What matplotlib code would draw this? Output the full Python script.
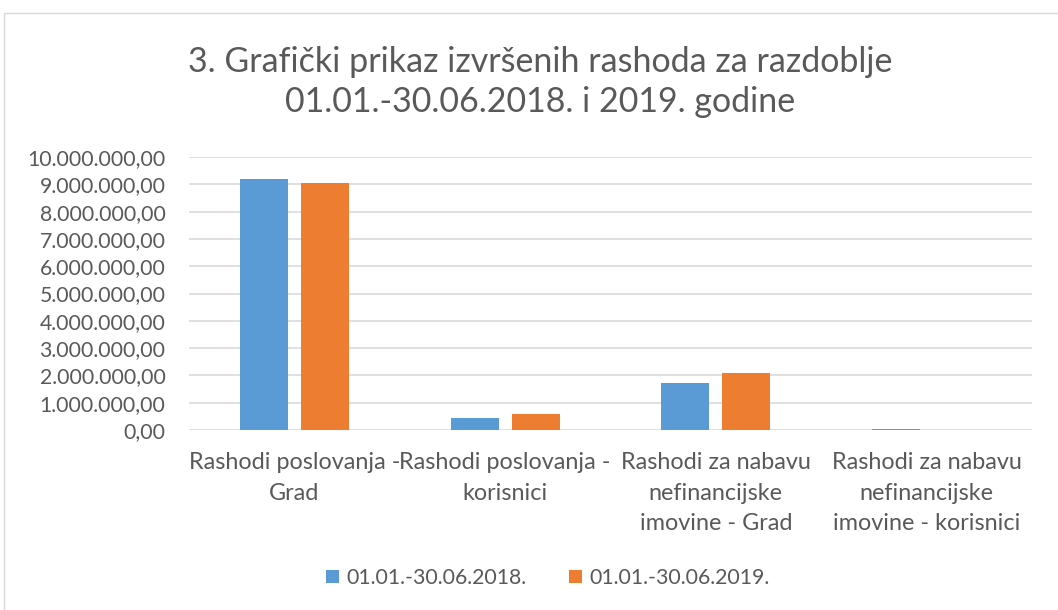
import numpy as np
import matplotlib.pyplot as plt
from matplotlib.patches import Rectangle
from matplotlib.ticker import FuncFormatter

categories = ["Rashodi poslovanja -\nGrad", "Rashodi poslovanja -\nkorisnici",
              "Rashodi za nabavu\nnefinancijske\nimovine - Grad",
              "Rashodi za nabavu\nnefinancijske\nimovine - korisnici"]
series_2018 = [9200000, 430000, 1720000, 50000]
series_2019 = [9030000, 570000, 2080000, 10000]
labels = ["01.01.-30.06.2018.", "01.01.-30.06.2019."]

plt.rcParams['font.family'] = ['Lato', 'DejaVu Sans']
txt = '#595959'

fig = plt.figure(figsize=(10.58, 6.10), dpi=100)
fig.patches.append(Rectangle((4 / 1058, -0.1), 1.2, 1 - 13 / 610 + 0.1, transform=fig.transFigure,
                             fill=False, edgecolor='#d9d9d9', linewidth=1))
ax = fig.add_axes([189 / 1058, 1 - 430 / 610, (1032 - 189) / 1058, (430 - 157) / 610])

x = np.arange(len(categories))
w = 0.228
off = 0.031 + w / 2
ax.bar(x - off, series_2018, w, color='#5b9bd5', label=labels[0], zorder=3)
ax.bar(x + off, series_2019, w, color='#ed7d31', label=labels[1], zorder=3)

ax.set_xlim(-0.5, 3.5)
ax.set_ylim(0, 10000000)
ax.set_yticks(np.arange(0, 10000001, 1000000))

def fmt(v, pos):
    s = f"{int(v):,}".replace(",", ".")
    return s + ",00"

ax.yaxis.set_major_formatter(FuncFormatter(fmt))
ax.grid(axis='y', color='#d9d9d9', linewidth=1.2, zorder=0)
for s in ax.spines.values():
    s.set_visible(False)
ax.tick_params(axis='y', length=0, labelsize=15.3, labelcolor=txt, pad=17)
ax.tick_params(axis='x', length=0, labelsize=16.8, labelcolor=txt, pad=16)
ax.set_xticks(x)
ax.set_xticklabels(categories, linespacing=1.55, va='top')

fig.text(540 / 1058, 1 - 82 / 610, "3. Grafički prikaz izvršenih rashoda za razdoblje\n01.01.-30.06.2018. i 2019. godine",
         ha='center', va='center', fontsize=24.5, color=txt, linespacing=1.3)

fig.legend(loc='center', bbox_to_anchor=(548 / 1058, 1 - 578 / 610), ncol=2, frameon=False,
           fontsize=15.3, labelcolor=txt, handlelength=0.6, handleheight=0.6,
           handletextpad=0.35, columnspacing=2.0)

fig.savefig('out.png', dpi=100)
